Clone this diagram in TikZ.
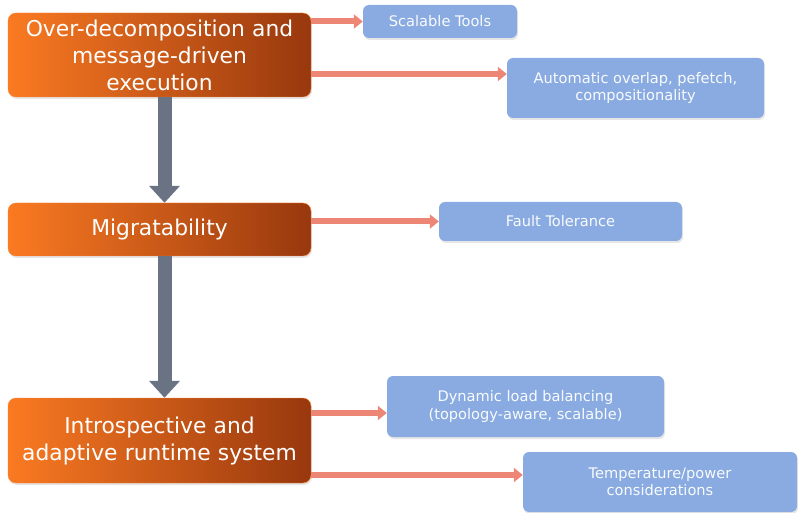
\documentclass[tikz,border=0pt]{standalone}
\usepackage{fontspec}
\setmainfont{DejaVu Sans}
\usetikzlibrary{positioning,calc,arrows.meta,shadows}
\tikzset{>=latex}
\definecolor{orangel}{RGB}{250,122,34}
\definecolor{orangem}{RGB}{232,104,28}
\definecolor{oranged}{RGB}{152,56,14}
\definecolor{boxblue}{RGB}{137,171,225}
\definecolor{salmon}{RGB}{238,134,118}
\definecolor{slate}{RGB}{106,115,132}

\begin{document}
\begin{tikzpicture}[x=1pt,y=-1pt]
    \tikzset{
    stage/.style={rounded corners=8pt, draw=orangel!90!white, thin, left color=orangel, middle color=orangem, right color=oranged, text=white, align=center, minimum width=303pt, text width=299pt, inner sep=0pt, font=\fontsize{21.8}{27}\selectfont, drop shadow={shadow xshift=1pt, shadow yshift=-2pt, opacity=0.2}},
    gain/.style={rounded corners=6pt, fill=boxblue, text=white!95!boxblue, align=center, inner sep=0pt, font=\fontsize{14.6}{17.5}\selectfont, drop shadow={shadow xshift=1pt, shadow yshift=-2pt, opacity=0.2}},
    leads/.style={salmon, line width=6pt, -{Triangle[length=9pt,width=14pt]}},
    enables/.style={slate, line width=14pt, -{Triangle[length=17pt,width=30pt]}},
    }
    \useasboundingbox (0,0) rectangle (798,513);

    % Main stages (left column).
    \node[stage, minimum height=84pt] (over)  at (159.5,55)  {Over-decomposition and\\message-driven\\execution};
    \node[stage, minimum height=53pt] (migr)  at (159.5,229.5) {Migratability};
    \node[stage, minimum height=85pt] (intro) at (159.5,440.5) {Introspective and\\adaptive runtime system};

    % Benefits (right side).
    \node[gain, minimum width=154pt, minimum height=33pt] (tools)   at (440,21.5)  {Scalable Tools};
    \node[gain, minimum width=257pt, minimum height=60pt] (overlap) at (635.5,88)  {Automatic overlap, pefetch,\\compositionality};
    \node[gain, minimum width=243pt, minimum height=39pt] (fault)   at (560.5,221.5) {Fault Tolerance};
    \node[gain, minimum width=277pt, minimum height=61pt] (dlb)     at (525.5,406.5) {Dynamic load balancing\\(topology-aware, scalable)};
    \node[gain, minimum width=274pt, minimum height=60pt] (temp)    at (660,482)   {Temperature/power\\considerations};

    % Stage to stage.
    \draw[enables] ([xshift=5pt]over.south) -- ([xshift=5pt]migr.north);
    \draw[enables] ([xshift=5pt]migr.south) -- ([xshift=5pt]intro.north);

    % Stage to benefit.
    \draw[leads] (over.east |- tools.west) -- (tools.west);
    \draw[leads] ($(over.east |- overlap.west)+(0,-14)$) -- ($(overlap.west)+(0,-14)$);
    \draw[leads] (migr.east |- fault.west) -- (fault.west);
    \draw[leads] ($(intro.east |- dlb.west)+(0,6.5)$) -- ($(dlb.west)+(0,6.5)$);
    \draw[leads] ($(intro.east |- temp.west)+(0,-7)$) -- ($(temp.west)+(0,-7)$);
\end{tikzpicture}
\end{document}
